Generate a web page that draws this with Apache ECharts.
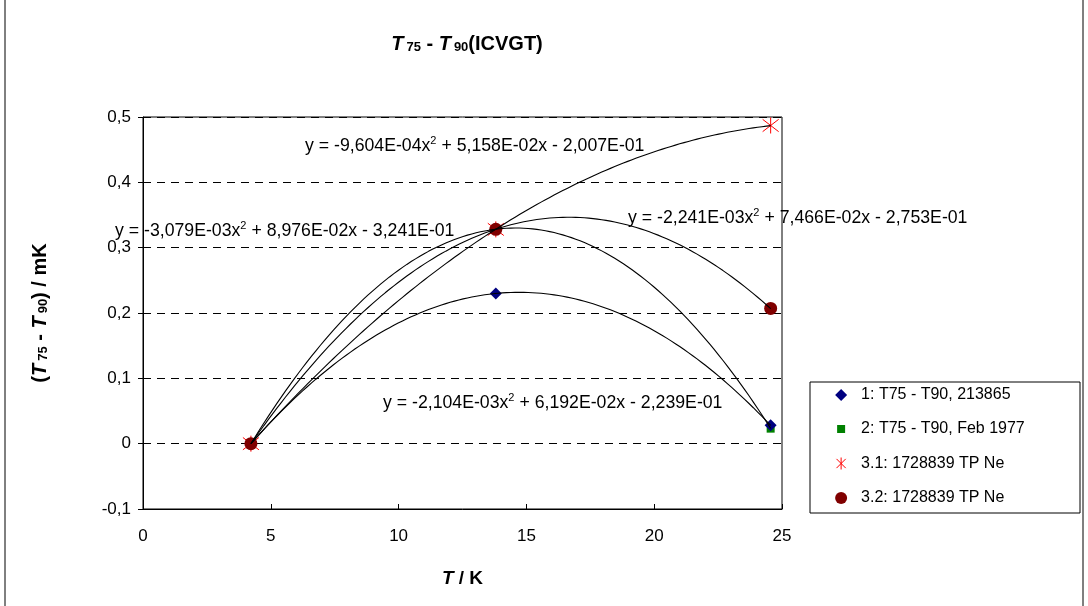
<!DOCTYPE html>
<html><head><meta charset="utf-8">
<script src="https://cdn.jsdelivr.net/npm/echarts@6/dist/echarts.min.js"></script>
<style>html,body{margin:0;padding:0;background:#fff}#c{width:1088px;height:606px}</style>
</head><body><div id="c"></div>
<script>
// ITS-90 fixed points used (K)
const xFixed = [4.2221, 13.8033, 24.5561];
const s1Name = '1: T75 - T90, 213865';
const s1Vals = [0.000, 0.230, 0.028];
const s2Name = '2: T75 - T90, Feb 1977';
const s2Vals = [0.000, 0.328, 0.023];
const s31Name = '3.1: 1728839 TP Ne';
const s31Vals = [0.000, 0.328, 0.487];
const s32Name = '3.2: 1728839 TP Ne';
const s32Vals = [0.000, 0.328, 0.207];
// displayed polynomial trendline coefficients [a, b, c] for y = a x^2 + b x + c
const coef1 = [-2.104e-3, 6.192e-2, -2.239e-1];
const coef2 = [-3.079e-3, 8.976e-2, -3.241e-1];
const coef31 = [-9.604e-4, 5.158e-2, -2.007e-1];
const coef32 = [-2.241e-3, 7.466e-2, -2.753e-1];
const xTicks = [0, 5, 10, 15, 20, 25];
const yTicks = [-0.1, 0, 0.1, 0.2, 0.3, 0.4, 0.5];

function fmtE(v) {
  const s = Math.abs(v).toExponential(3).replace('.', ',');
  const [m, e] = s.split('e');
  const ei = parseInt(e, 10);
  return m + 'E' + (ei < 0 ? '-' : '+') + String(Math.abs(ei)).padStart(2, '0');
}
function eqText(c) {
  return '{t|y = ' + (c[0] < 0 ? '-' : '') + fmtE(c[0]) + 'x}{sup|2}{t| ' +
    (c[1] < 0 ? '- ' : '+ ') + fmtE(c[1]) + 'x ' + (c[2] < 0 ? '- ' : '+ ') + fmtE(c[2]) + '}';
}
function trend(c) {
  const x0 = xFixed[0], x1 = xFixed[xFixed.length - 1];
  const out = [];
  const n = 120;
  for (let i = 0; i <= n; i++) {
    const x = x0 + (x1 - x0) * i / n;
    out.push([x, c[0] * x * x + c[1] * x + c[2]]);
  }
  return out;
}
const pts = v => xFixed.map((x, i) => [x, v[i]]);

const FONT = 'Liberation Sans, Arial, sans-serif';
const asterisk = 'path://M0,0L20,20M20,0L0,20M10,-3L10,23';
const eqRich = {
  t: {fontSize: 17.7, fontFamily: FONT, fill: '#000'},
  sup: {fontSize: 11, fontFamily: FONT, fill: '#000', verticalAlign: 'top', padding: [0, 0, 10, 0]}
};
function boldRich(size, sub) {
  return {
    bi: {fontSize: size, fontWeight: 'bold', fontStyle: 'italic', fontFamily: FONT, color: '#000', fill: '#000'},
    b: {fontSize: size, fontWeight: 'bold', fontFamily: FONT, color: '#000', fill: '#000'},
    sub: {fontSize: sub, fontWeight: 'bold', fontFamily: FONT, color: '#000', fill: '#000', verticalAlign: 'bottom', padding: [5, 0, 0, 3]}
  };
}
const chart = echarts.init(document.getElementById('c'), null, {renderer: 'canvas'});
const trendStyle = {type: 'line', showSymbol: false, symbol: 'none', smooth: false,
  lineStyle: {color: '#000', width: 1.1}, z: 5, silent: true, animation: false};

chart.setOption({
  animation: false,
  backgroundColor: '#fff',
  textStyle: {fontFamily: FONT},
  grid: {left: 143, right: 306, top: 117, bottom: 97, show: true, borderColor: '#000', borderWidth: 1, backgroundColor: 'transparent'},
  xAxis: {
    type: 'value', min: 0, max: 25, interval: 5,
    axisLine: {show: true, onZero: false, lineStyle: {color: '#000', width: 1}},
    axisTick: {show: true, inside: true, length: 5, lineStyle: {color: '#000'}},
    axisLabel: {color: '#000', fontSize: 17, fontFamily: FONT, margin: 19,
      formatter: v => xTicks.includes(v) ? String(v) : ''},
    splitLine: {show: false},
    name: '{bi|T}{b| / K}', nameLocation: 'middle', nameGap: 60,
    nameTextStyle: {rich: boldRich(19, 13)}
  },
  yAxis: {
    type: 'value', min: -0.1, max: 0.5, interval: 0.1,
    axisLine: {show: true, onZero: false, lineStyle: {color: '#000', width: 1}},
    axisTick: {show: true, inside: false, length: 5, lineStyle: {color: '#000'}},
    axisLabel: {color: '#000', fontSize: 17, fontFamily: FONT, margin: 12,
      formatter: v => {
        const t = yTicks.find(y => Math.abs(y - v) < 1e-9);
        if (t === undefined) return '';
        return Math.abs(t) < 1e-9 ? '0' : t.toFixed(1).replace('.', ',');
      }},
    splitLine: {show: true, lineStyle: {color: '#000', type: [8, 6], width: 1}},
    name: '{b|(}{bi|T}{sub|75}{b| - }{bi|T}{sub|90}{b|) / mK}', nameLocation: 'middle', nameGap: 93, nameRotate: 90,
    nameTextStyle: {rich: boldRich(20, 13)}
  },
  legend: {
    orient: 'vertical', left: 829, top: 382, itemGap: 18, itemWidth: 12, itemHeight: 12,
    textStyle: {fontSize: 16, fontFamily: FONT, color: '#000', padding: [0, 0, 0, 9]},
    data: [
      {name: s1Name, icon: 'diamond'},
      {name: s2Name, icon: 'path://M2,2L10,2L10,10L2,10ZM0,0M12,12'},
      {name: s31Name, icon: asterisk, itemStyle: {color: 'none', borderColor: '#ff0000', borderWidth: 1}},
      {name: s32Name, icon: 'circle'}
    ]
  },
  graphic: [
    {type: 'rect', shape: {x: 5, y: -5, width: 1078, height: 620}, style: {fill: 'none', stroke: '#000', lineWidth: 1}, silent: true, z: -10},
    {type: 'rect', shape: {x: 810, y: 382, width: 270, height: 131}, style: {fill: '#fff', stroke: '#000', lineWidth: 1}, silent: true, z: -1},
    {type: 'text', x: 467, y: 44, style: {
      text: '{bi|T}{sub|75}{b| - }{bi|T}{sub|90}{b|(ICVGT)}', align: 'center', verticalAlign: 'middle',
      rich: boldRich(20, 13)}, z: 10},
    {type: 'text', x: 305, y: 146, style: {text: eqText(coef31), verticalAlign: 'middle', rich: eqRich}, z: 10},
    {type: 'text', x: 115, y: 231, style: {text: eqText(coef2), verticalAlign: 'middle', rich: eqRich}, z: 10},
    {type: 'text', x: 628, y: 218, style: {text: eqText(coef32), verticalAlign: 'middle', rich: eqRich}, z: 10},
    {type: 'text', x: 383, y: 403, style: {text: eqText(coef1), verticalAlign: 'middle', rich: eqRich}, z: 10}
  ],
  series: [
    {name: s1Name, type: 'scatter', data: pts(s1Vals), symbol: 'diamond', symbolSize: 12,
      itemStyle: {color: '#000080', opacity: 1}, z: 3},
    {name: s2Name, type: 'scatter', data: pts(s2Vals), symbol: 'rect', symbolSize: 8,
      itemStyle: {color: '#008000', opacity: 1}, z: 2},
    {name: s31Name, type: 'scatter', data: pts(s31Vals), symbol: asterisk, symbolSize: 16,
      itemStyle: {color: 'none', borderColor: '#ff0000', borderWidth: 1, opacity: 1}, z: 3},
    {name: s32Name, type: 'scatter', data: pts(s32Vals), symbol: 'circle', symbolSize: 13,
      itemStyle: {color: '#800000', opacity: 1}, z: 4},
    Object.assign({name: 't1', data: trend(coef1)}, trendStyle),
    Object.assign({name: 't2', data: trend(coef2)}, trendStyle),
    Object.assign({name: 't31', data: trend(coef31)}, trendStyle),
    Object.assign({name: 't32', data: trend(coef32)}, trendStyle)
  ]
});
</script>
</body></html>
